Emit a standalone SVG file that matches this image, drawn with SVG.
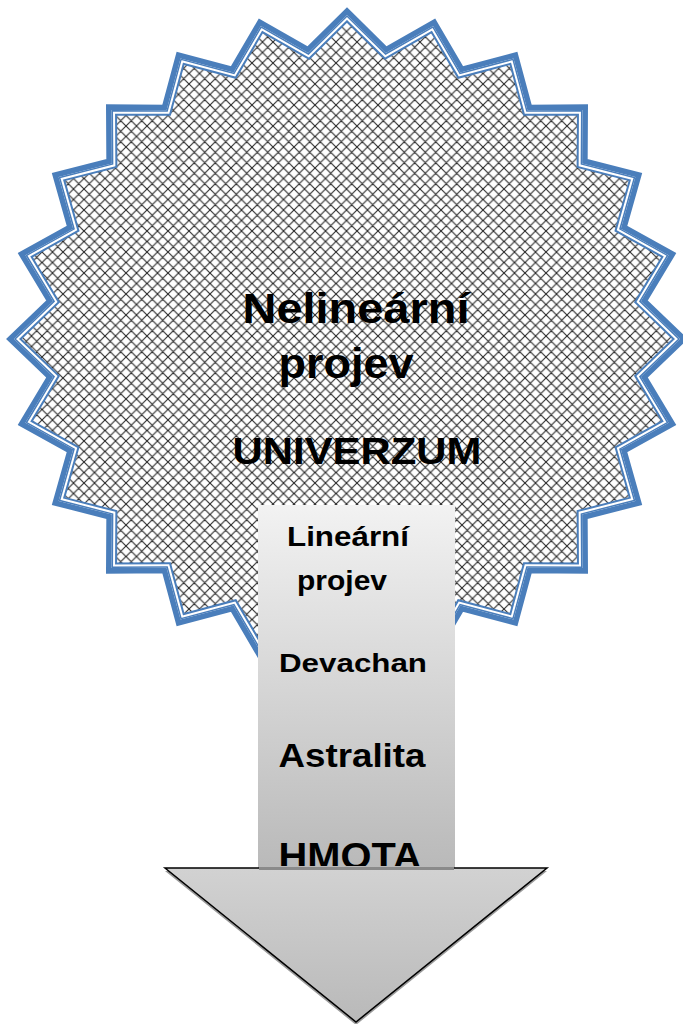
<svg xmlns="http://www.w3.org/2000/svg" width="683" height="1024" viewBox="0 0 683 1024">
<style>
.t{font-family:"Liberation Sans",Arial,sans-serif;font-weight:bold;fill:#000}
</style>
<defs>
<pattern id="hatch" width="10.5" height="10.5" patternUnits="userSpaceOnUse">
<rect width="10.5" height="10.5" fill="#fff"/>
<path d="M0,0 L10.5,10.5 M10.5,0 L0,10.5 M-1,9.5 L1,11.5 M9.5,-1 L11.5,1 M-1,1 L1,-1 M9.5,11.5 L11.5,9.5" stroke="#262626" stroke-width="1.1" fill="none"/>
</pattern>
<path id="starP" d="M347,15 L385.69,53.07 L433.19,26.04 L460.43,72.55 L513.5,58.41 L527.44,110.2 L582.47,109.9 L582.15,163.43 L635.39,177 L620.84,228.63 L668.65,255.14 L640.86,301.36 L680,339 L640.86,376.64 L668.65,422.86 L620.84,449.37 L635.39,501 L582.15,514.57 L582.47,568.1 L527.44,567.8 L513.5,619.59 L460.43,605.45 L433.19,651.96 L385.69,624.93 L347,663 L308.31,624.93 L260.81,651.96 L233.57,605.45 L180.5,619.59 L166.56,567.8 L111.53,568.1 L111.85,514.57 L58.61,501 L73.16,449.37 L25.35,422.86 L53.14,376.64 L14,339 L53.14,301.36 L25.35,255.14 L73.16,228.63 L58.61,177 L111.85,163.43 L111.53,109.9 L166.56,110.2 L180.5,58.41 L233.57,72.55 L260.81,26.04 L308.31,53.07 Z"/>
<clipPath id="starClip"><use href="#starP"/></clipPath>
<clipPath id="bodyClip"><rect x="258" y="505" width="197" height="361"/></clipPath>
<linearGradient id="bodyG" x1="0" y1="0" x2="0" y2="1">
<stop offset="0" stop-color="#f2f2f2"/>
<stop offset="1" stop-color="#b9b9b9"/>
</linearGradient>
<linearGradient id="headG" x1="0" y1="0" x2="0" y2="1">
<stop offset="0" stop-color="#d2d2d2"/>
<stop offset="1" stop-color="#b9b9b9"/>
</linearGradient>
</defs>

<g id="universe">
<use href="#starP" fill="url(#hatch)"/>
<use href="#starP" fill="none" stroke="#4A7EBB" stroke-width="11" stroke-linejoin="miter"/>
<g clip-path="url(#starClip)">
<use href="#starP" fill="none" stroke="#fff" stroke-width="7" stroke-linejoin="miter"/>
<use href="#starP" fill="none" stroke="#4A7EBB" stroke-width="3" stroke-linejoin="miter"/>
</g>
<text class="t" x="356" y="323" font-size="43" text-anchor="middle" textLength="227" lengthAdjust="spacingAndGlyphs">Nelineární</text>
<text class="t" x="346" y="378" font-size="43" text-anchor="middle" textLength="135" lengthAdjust="spacingAndGlyphs">projev</text>
<text class="t" x="357" y="464" font-size="36" text-anchor="middle" textLength="249" lengthAdjust="spacingAndGlyphs">UNIVERZUM</text>
</g>

<g id="arrow">
<polygon points="165,871 547,871 356,1025" fill="#9a9a9a"/>
<rect x="258" y="505" width="197" height="364" fill="url(#bodyG)"/>
<text class="t" x="348" y="546" font-size="28" text-anchor="middle" textLength="122" lengthAdjust="spacingAndGlyphs">Lineární</text>
<text class="t" x="342" y="590" font-size="28" text-anchor="middle" textLength="90" lengthAdjust="spacingAndGlyphs">projev</text>
<text class="t" x="353" y="672" font-size="26" text-anchor="middle" textLength="148" lengthAdjust="spacingAndGlyphs">Devachan</text>
<text class="t" x="352" y="767" font-size="34" text-anchor="middle" textLength="147" lengthAdjust="spacingAndGlyphs">Astralita</text>
<text class="t" x="350" y="869" font-size="37" text-anchor="middle" textLength="143" lengthAdjust="spacingAndGlyphs" clip-path="url(#bodyClip)">HMOTA</text>
<polygon points="165,868 547,868 356,1022" fill="url(#headG)" stroke="#000" stroke-width="1.5" stroke-linejoin="miter"/>
<line x1="259" y1="868.5" x2="454" y2="868.5" stroke="#8a8a8a" stroke-width="3"/>
</g>
</svg>
